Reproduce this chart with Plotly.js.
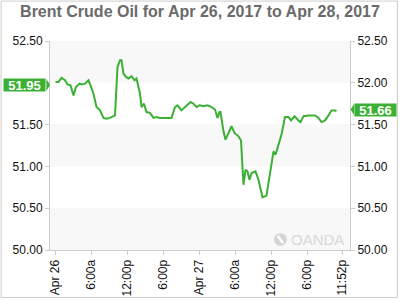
<!DOCTYPE html>
<html>
<head>
<meta charset="utf-8">
<script src="https://cdn.plot.ly/plotly-3.0.1.min.js"></script>
<style>
  html, body { margin: 0; padding: 0; background: #fff; }
  #chart { width: 400px; height: 300px; }
</style>
</head>
<body>
<div id="chart"></div>
<script>
// ---- data (Brent Crude Oil, Apr 26 - Apr 27 2017) ----
const times = [
  '2017-04-26 00:05','2017-04-26 00:35','2017-04-26 01:05','2017-04-26 01:40','2017-04-26 02:05',
  '2017-04-26 02:35','2017-04-26 03:05','2017-04-26 03:30','2017-04-26 04:05','2017-04-26 04:25',
  '2017-04-26 05:00','2017-04-26 05:35','2017-04-26 05:55','2017-04-26 06:25','2017-04-26 06:55',
  '2017-04-26 07:30','2017-04-26 08:05','2017-04-26 08:35','2017-04-26 09:10','2017-04-26 09:25',
  '2017-04-26 10:00','2017-04-26 10:25','2017-04-26 10:50','2017-04-26 11:05','2017-04-26 11:25',
  '2017-04-26 11:50','2017-04-26 12:15','2017-04-26 12:45','2017-04-26 13:15','2017-04-26 13:35',
  '2017-04-26 14:10','2017-04-26 14:25','2017-04-26 14:50','2017-04-26 15:15','2017-04-26 15:50',
  '2017-04-26 16:25','2017-04-26 16:55','2017-04-26 17:30','2017-04-26 19:25','2017-04-26 20:00',
  '2017-04-26 20:25','2017-04-26 21:05','2017-04-26 21:55','2017-04-26 22:35','2017-04-26 23:05',
  '2017-04-26 23:35','2017-04-27 00:05','2017-04-27 00:45','2017-04-27 01:25','2017-04-27 02:05',
  '2017-04-27 02:40','2017-04-27 03:05','2017-04-27 03:25','2017-04-27 03:35','2017-04-27 04:05',
  '2017-04-27 04:25','2017-04-27 04:55','2017-04-27 05:25','2017-04-27 05:55','2017-04-27 06:35',
  '2017-04-27 07:00','2017-04-27 07:25','2017-04-27 07:45','2017-04-27 08:05','2017-04-27 08:25',
  '2017-04-27 08:45','2017-04-27 09:25','2017-04-27 09:55','2017-04-27 10:35','2017-04-27 11:15',
  '2017-04-27 12:25','2017-04-27 12:45','2017-04-27 13:15','2017-04-27 13:45','2017-04-27 14:20',
  '2017-04-27 14:55','2017-04-27 15:20','2017-04-27 15:55','2017-04-27 16:35','2017-04-27 16:55',
  '2017-04-27 17:25','2017-04-27 18:15','2017-04-27 19:20','2017-04-27 19:55','2017-04-27 20:25',
  '2017-04-27 21:00','2017-04-27 21:35','2017-04-27 22:05','2017-04-27 22:40','2017-04-27 22:55'
];
const prices = [
  52.01, 52.01, 52.06, 52.03, 51.98,
  51.97, 51.85, 51.95, 51.99, 51.98,
  51.99, 52.03, 51.97, 51.87, 51.71,
  51.67, 51.58, 51.57, 51.58, 51.59,
  51.61, 52.19, 52.27, 52.27, 52.11,
  52.07, 52.05, 52.08, 52.03, 52.05,
  51.87, 51.71, 51.75, 51.65, 51.64,
  51.58, 51.59, 51.58, 51.58, 51.71,
  51.73, 51.67, 51.73, 51.77, 51.75,
  51.71, 51.73, 51.72, 51.73, 51.71,
  51.68, 51.58, 51.65, 51.65, 51.42,
  51.32, 51.40, 51.48, 51.40, 51.36,
  51.31, 50.78, 50.96, 50.94, 50.84,
  50.92, 50.94, 50.84, 50.63, 50.65,
  51.18, 51.14, 51.26, 51.38, 51.59,
  51.59, 51.55, 51.60, 51.55, 51.53,
  51.60, 51.61, 51.61, 51.58, 51.53,
  51.55, 51.61, 51.67, 51.67, 51.66
];
const tickTimes = ['2017-04-26 00:00','2017-04-26 06:00','2017-04-26 12:00','2017-04-26 18:00',
  '2017-04-27 00:00','2017-04-27 06:00','2017-04-27 12:00','2017-04-27 18:00','2017-04-27 23:52'];
const tickLabels = ['Apr 26','6:00a','12:00p','6:00p','Apr 27','6:00a','12:00p','6:00p','11:52p'];
const yTicks = [50.00, 50.50, 51.00, 51.50, 52.00, 52.50];
const yLabelsRight = ['50.00','50.50','51.00','51.50','52.00','52.50'];
const yLabelsLeft = ['50.00','50.50','51.00','51.50','','52.50']; // 52.00 hidden under the open badge
const bandEdges = [[50.0, 50.5], [51.0, 51.5], [52.0, 52.5]];
const openLabel = '51.95';
const lastLabel = '51.66';
const titleText = 'Brent Crude Oil for Apr 26, 2017 to Apr 28, 2017';

// ---- layout ----
const FONT = 'Liberation Sans, Arial, sans-serif';
const GREEN = '#3cb034';
const xRange = ['2017-04-25 23:10', '2017-04-28 01:10'];
const yRange = [50, 52.5];

const shapes = bandEdges.map(b => ({
  type: 'rect', xref: 'paper', yref: 'y', x0: 0, x1: 1, y0: b[0], y1: b[1],
  fillcolor: '#f8f8f8', line: { width: 0 }, layer: 'below'
}));
// outer frame
shapes.push({ type: 'rect', xref: 'paper', yref: 'paper',
  x0: -0.163, x1: 1.158, y0: -0.227, y1: 1.191,
  line: { color: '#cccccc', width: 1 }, fillcolor: 'rgba(0,0,0,0)' });
// badge arrows
shapes.push({ type: 'path', xref: 'paper', yref: 'y',
  path: 'M -0.012 52.046 L 0.0 51.974 L -0.012 51.902 Z',
  fillcolor: GREEN, line: { width: 0 } });
shapes.push({ type: 'path', xref: 'paper', yref: 'y',
  path: 'M 1.014 51.752 L 1.002 51.680 L 1.014 51.608 Z',
  fillcolor: GREEN, line: { width: 0 } });
// OANDA logo
shapes.push({ type: 'circle', xref: 'paper', yref: 'y',
  x0: 0.747, x1: 0.789, y0: 50.050, y1: 50.200,
  fillcolor: '#d4d4d4', line: { width: 0 } });
shapes.push({ type: 'line', xref: 'paper', yref: 'y',
  x0: 0.759, x1: 0.777, y0: 50.170, y1: 50.080,
  line: { color: '#ffffff', width: 2.5 } });

const annotations = [
  { xref: 'paper', yref: 'y', x: -0.012, y: 51.974, xanchor: 'right', yanchor: 'middle',
    text: openLabel, showarrow: false, bgcolor: GREEN, borderpad: 1, width: 39, height: 10,
    font: { family: FONT, size: 13, color: '#ffffff', weight: 'bold' } },
  { xref: 'paper', yref: 'y', x: 1.014, y: 51.680, xanchor: 'left', yanchor: 'middle',
    text: lastLabel, showarrow: false, bgcolor: GREEN, borderpad: 1, width: 39, height: 10,
    font: { family: FONT, size: 13, color: '#ffffff', weight: 'bold' } },
  { xref: 'paper', yref: 'y', x: 0.985, y: 50.126, xanchor: 'right', yanchor: 'middle',
    text: 'OANDA', showarrow: false,
    font: { family: FONT, size: 15, color: '#d8d8d8' } }
];

const axisCommon = {
  showgrid: false, zeroline: false, showline: true, linecolor: '#cccccc', linewidth: 1,
  ticks: 'outside', ticklen: 4, tickcolor: '#cccccc',
  tickfont: { family: FONT, size: 12, color: '#111111' }
};

const data = [
  { x: times, y: prices, type: 'scatter', mode: 'lines',
    line: { color: GREEN, width: 2 }, hoverinfo: 'skip', showlegend: false },
  { x: times, y: prices, type: 'scatter', mode: 'lines', yaxis: 'y2',
    line: { color: GREEN, width: 0 }, opacity: 0, hoverinfo: 'skip', showlegend: false }
];

const layout = {
  width: 400, height: 300,
  margin: { l: 50, r: 50, t: 41, b: 50 },
  paper_bgcolor: '#ffffff', plot_bgcolor: '#ffffff',
  showlegend: false,
  title: { text: titleText, xref: 'container', x: 0.5, yref: 'container', y: 0.962,
    xanchor: 'center', yanchor: 'middle',
    font: { family: FONT, size: 16, color: '#6a6a6a', weight: 'bold' } },
  xaxis: Object.assign({}, axisCommon, {
    type: 'date', range: xRange, tickmode: 'array', tickvals: tickTimes, ticktext: tickLabels,
    tickangle: -90
  }),
  yaxis: Object.assign({}, axisCommon, {
    range: yRange, tickmode: 'array', tickvals: yTicks, ticktext: yLabelsLeft
  }),
  yaxis2: Object.assign({}, axisCommon, {
    range: yRange, tickmode: 'array', tickvals: yTicks, ticktext: yLabelsRight,
    overlaying: 'y', side: 'right'
  }),
  shapes: shapes,
  annotations: annotations
};

Plotly.newPlot('chart', data, layout, { displayModeBar: false, staticPlot: true });
</script>
</body>
</html>
